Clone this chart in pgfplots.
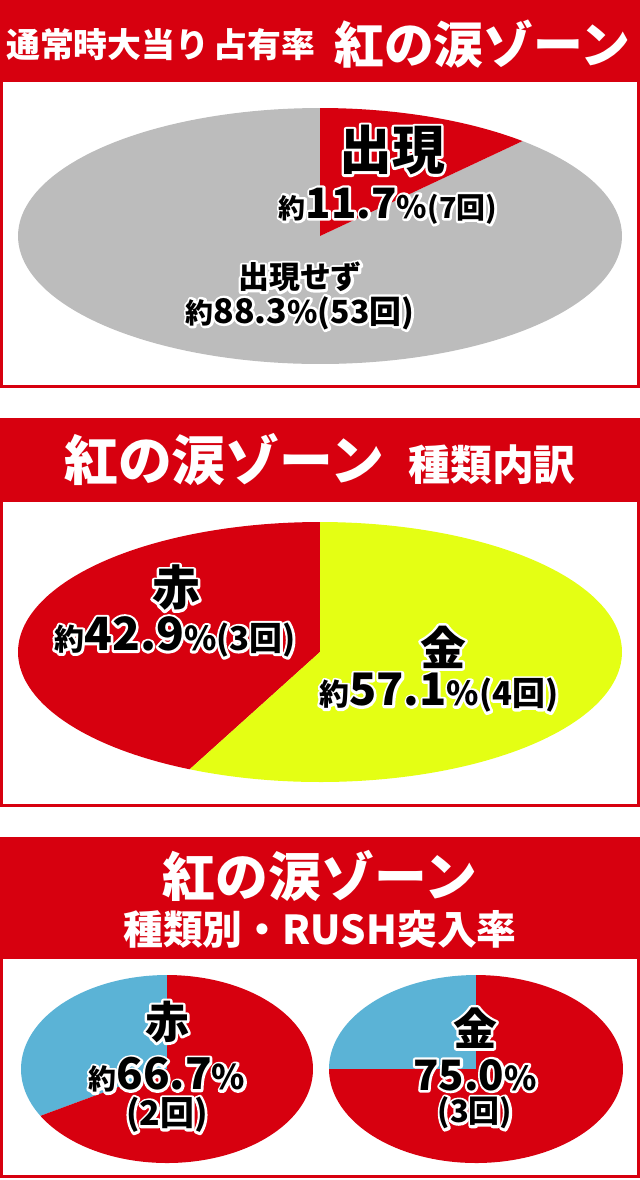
\documentclass[border=0pt]{standalone}
\usepackage{pgfplots}
\pgfplotsset{compat=1.18}
\usepackage{fontspec}
\IfFontExistsTF{Noto Sans CJK JP Black}
  {\setmainfont{Noto Sans CJK JP Black}[BoldFont={Noto Sans CJK JP Black}]}
  {\setmainfont{Noto Sans CJK JP}}

\definecolor{cred}{RGB}{215,0,15}
\definecolor{cgray}{RGB}{188,188,188}
\definecolor{cyel}{RGB}{228,255,20}
\definecolor{cblue}{RGB}{91,179,214}

\newcommand{\fs}[1]{\fontsize{#1}{#1}\selectfont}
% black text with a white rim (stroked copy underneath)
\newcommand{\olabel}[2]{%
  \node[inner sep=0pt] at (#1) {\special{pdf:literal direct 1 Tr 5 w 1 j 1 1 1 RG}\bfseries #2\special{pdf:literal direct 0 Tr}};
  \node[text=black,inner sep=0pt] at (#1) {\bfseries #2};}

% shares in percent
\def\hitA{11.7}   % 出現
\def\redB{42.9}   % 赤
\def\rushR{66.7}  % 赤 RUSH
\def\rushG{75.0}  % 金 RUSH

\pgfplotsset{pie/.style={anchor=center, scale only axis, hide axis,
    xmin=-1, xmax=1, ymin=-1, ymax=1, clip=false}}

\begin{document}
\begin{tikzpicture}[x=1bp, y=-1bp]
\path[use as bounding box] (0,0) rectangle (640,1180);

% ---- panel 1
\fill[cred] (0,0) rectangle (640,80);
\draw[cred, line width=3bp] (1.5,80) rectangle (638.5,386.5);
\node[text=white, anchor=west, inner sep=0pt] at (6,45) {\bfseries\fs{34}通常時大当り\hspace{4bp}占有率};
\node[text=white, anchor=west, inner sep=0pt] at (334,44) {\bfseries\fs{50}紅の涙ゾーン};

\begin{axis}[pie, at={(320bp,-236bp)}, width=604bp, height=256bp]
  \addplot[fill=cgray, draw=none, domain=-270:{90-3.6*\hitA}, samples=150] ({cos(x)},{sin(x)}) -- (0,0) -- cycle;
  \addplot[fill=cred, draw=none, domain={90-3.6*\hitA}:90, samples=40] ({cos(x)},{sin(x)}) -- (0,0) -- cycle;
\end{axis}
\olabel{392,150}{\fs{53}出現}
\olabel{388,206}{{\fs{27}約}{\fs{42}11.7}{\fs{31}\%}{\fs{29}(7回)}}
\olabel{300,277}{\fs{31}出現せず}
\olabel{300,313}{{\fs{28}約}{\fs{34}88.3}{\fs{31}\%}{\fs{32}(53回)}}

% ---- panel 2
\fill[cred] (0,418) rectangle (640,500);
\draw[cred, line width=3bp] (1.5,500) rectangle (638.5,805.5);
\node[text=white, inner sep=0pt] at (320,460) {\bfseries{\fs{54}紅の涙ゾーン}\hspace{24bp}{\fs{42}種類内訳}};

\begin{axis}[pie, at={(320bp,-652bp)}, width=604bp, height=260bp]
  \addplot[fill=cred, draw=none, domain=90:{90+3.6*\redB}, samples=100] ({cos(x)},{sin(x)}) -- (0,0) -- cycle;
  \addplot[fill=cyel, draw=none, domain={90+3.6*\redB}:450, samples=120] ({cos(x)},{sin(x)}) -- (0,0) -- cycle;
\end{axis}
\olabel{176,588}{\fs{48}赤}
\olabel{175,637}{{\fs{30}約}{\fs{46}42.9}{\fs{33}\%}{\fs{33}(3回)}}
\olabel{443,647}{\fs{46}金}
\olabel{439,693}{{\fs{30}約}{\fs{45}57.1}{\fs{33}\%}{\fs{33}(4回)}}

% ---- panel 3
\fill[cred] (0,837) rectangle (640,957);
\draw[cred, line width=3bp] (1.5,957) rectangle (638.5,1176.5);
\node[text=white, inner sep=0pt] at (320,876) {\bfseries\fs{53}紅の涙ゾーン};
\node[text=white, inner sep=0pt] at (320,929) {\bfseries\fs{40}種類別・RUSH突入率};

\begin{axis}[pie, at={(167bp,-1069bp)}, width=292bp, height=188bp]
  \addplot[fill=cblue, draw=none, domain=90:{90+3.6*(100-\rushR)}, samples=60] ({cos(x)},{sin(x)}) -- (0,0) -- cycle;
  \addplot[fill=cred, draw=none, domain={90+3.6*(100-\rushR)}:450, samples=120] ({cos(x)},{sin(x)}) -- (0,0) -- cycle;
\end{axis}
\olabel{167,1022}{\fs{44}赤}
\olabel{167,1075}{{\fs{28}約}{\fs{44}66.7}{\fs{34}\%}}
\olabel{167,1115}{\fs{34}(2回)}

\begin{axis}[pie, at={(476bp,-1069bp)}, width=294bp, height=188bp]
  \addplot[fill=cblue, draw=none, domain=90:{90+3.6*(100-\rushG)}, samples=60] ({cos(x)},{sin(x)}) -- (0,0) -- cycle;
  \addplot[fill=cred, draw=none, domain={90+3.6*(100-\rushG)}:450, samples=120] ({cos(x)},{sin(x)}) -- (0,0) -- cycle;
\end{axis}
\olabel{475,1028}{\fs{44}金}
\olabel{475,1075}{{\fs{42}75.0}{\fs{33}\%}}
\olabel{475,1113}{\fs{31}(3回)}
\end{tikzpicture}
\end{document}
